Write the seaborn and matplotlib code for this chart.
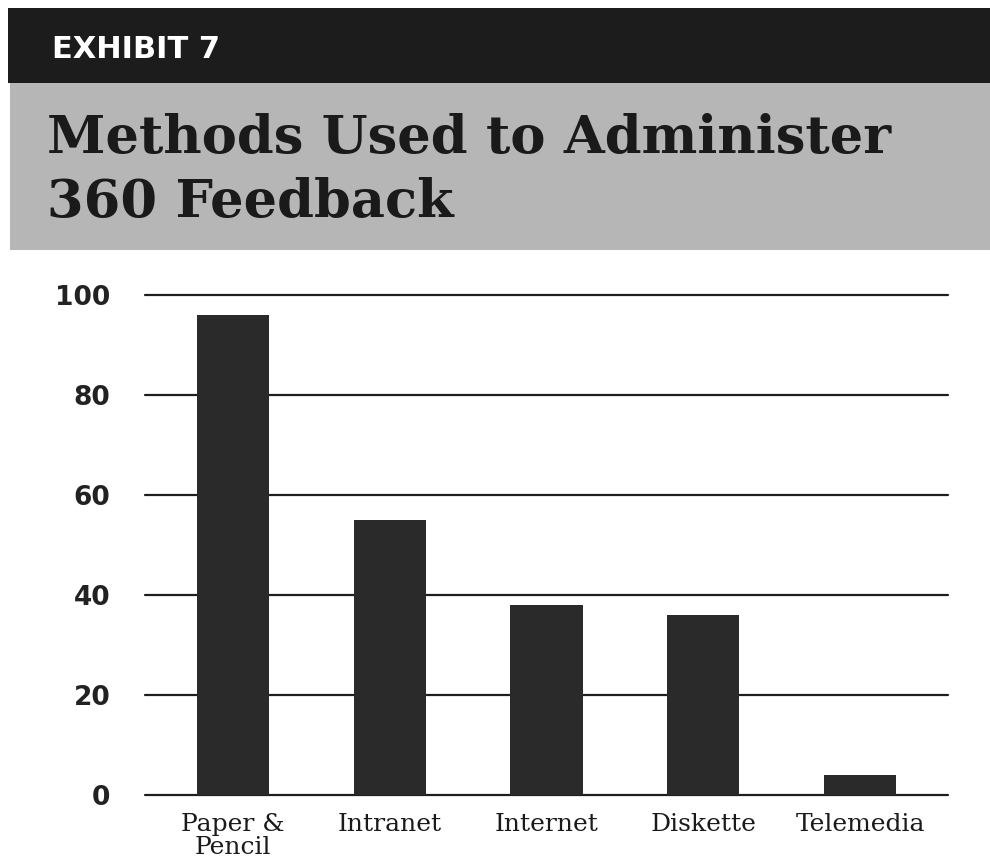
import matplotlib
matplotlib.use("Agg")
import matplotlib.pyplot as plt
import seaborn as sns
import pandas as pd
from matplotlib.patches import Rectangle

categories = ["Paper &\nPencil", "Intranet", "Internet", "Diskette", "Telemedia"]
values = [96, 55, 38, 36, 4]
yticks = [0, 20, 40, 60, 80, 100]

df = pd.DataFrame({"method": categories, "pct": values})

sns.set_theme(style="white")
fig = plt.figure(figsize=(9.9, 8.65), dpi=100)
fig.patch.set_facecolor("white")

# header bands
fig.patches.append(Rectangle((8/990, 1 - 83/865), 1, 75/865, transform=fig.transFigure,
                             facecolor="#1c1c1c", edgecolor="none", zorder=0))
fig.patches.append(Rectangle((10/990, 1 - 250/865), 1, 167/865, transform=fig.transFigure,
                             facecolor="#b6b6b6", edgecolor="none", zorder=0))
fig.text(52/990, 1 - 58/865, "EXHIBIT 7", color="white", fontsize=22, fontweight="bold",
         family="DejaVu Sans", va="baseline", ha="left")
fig.text(47/990, 1 - 153/865, "Methods Used to Administer", color="#1a1a1a", fontsize=38,
         fontweight="bold", family="DejaVu Serif", va="baseline", ha="left")
fig.text(47/990, 1 - 217/865, "360 Feedback", color="#1a1a1a", fontsize=38,
         fontweight="bold", family="DejaVu Serif", va="baseline", ha="left")

ax = fig.add_axes([145/990, 70/865, (948 - 145)/990, 500/865])
sns.barplot(data=df, x="method", y="pct", color="#2a2a2a", width=0.46, saturation=1,
            ax=ax, zorder=3, linewidth=0)
ax.set_xlim(-0.56, 4.56)
ax.set_ylim(0, 100)
ax.set_yticks(yticks)
ax.set_yticklabels([str(t) for t in yticks], fontsize=19, fontweight="bold",
                   family="DejaVu Sans", color="#222222")
ax.set_xlabel("")
ax.set_ylabel("")
for t in yticks:
    ax.axhline(t, color="#1e1e1e", lw=1.6, zorder=1, clip_on=False)
for s in ax.spines.values():
    s.set_visible(False)
ax.tick_params(axis="y", length=0, pad=25)
ax.tick_params(axis="x", length=0, pad=13)
for lab in ax.get_xticklabels():
    lab.set_fontfamily("DejaVu Serif")
    lab.set_fontsize(18)
    lab.set_color("#1a1a1a")
    lab.set_linespacing(1.0)
ax.set_facecolor("white")

fig.savefig("out.png", dpi=100, facecolor="white")
